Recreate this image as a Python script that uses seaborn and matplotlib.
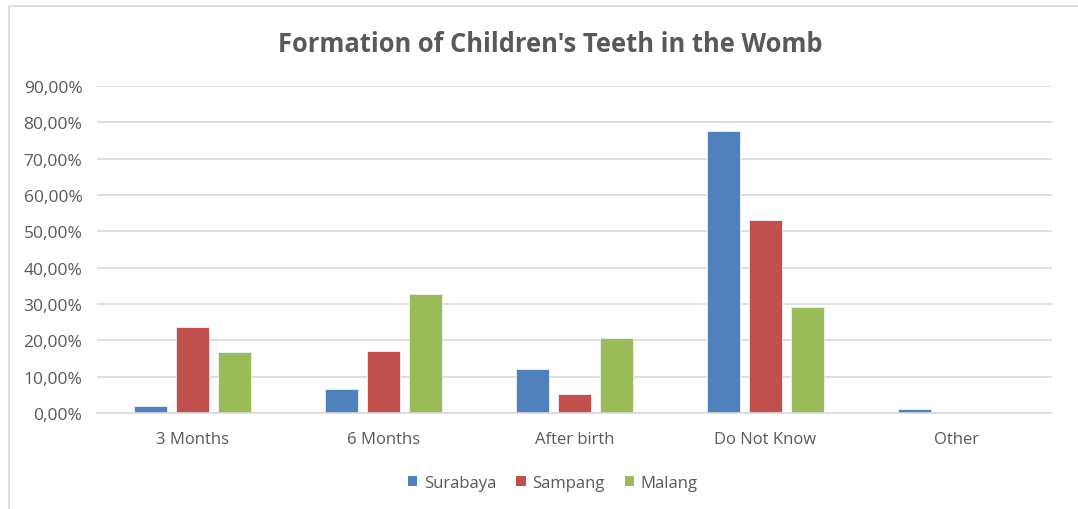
import matplotlib
matplotlib.use("Agg")
import matplotlib.pyplot as plt
import matplotlib.patches as mpatches
import seaborn as sns
import pandas as pd
from matplotlib.ticker import FuncFormatter, MultipleLocator

categories = ["3 Months", "6 Months", "After birth", "Do Not Know", "Other"]
surabaya = [0.019, 0.065, 0.121, 0.775, 0.010]
sampang = [0.237, 0.172, 0.053, 0.531, 0.0]
malang = [0.169, 0.327, 0.206, 0.291, 0.0]
series_names = ["Surabaya", "Sampang", "Malang"]
colors = ["#4F81BD", "#C0504D", "#9BBB59"]

rows = []
for name, vals in zip(series_names, [surabaya, sampang, malang]):
    for c, v in zip(categories, vals):
        rows.append({"Category": c, "Region": name, "Value": v})
df = pd.DataFrame(rows)

sns.set_theme(style="white")
plt.rcParams["font.family"] = ["Open Sans", "DejaVu Sans"]

fig = plt.figure(figsize=(10.78, 5.10), dpi=100)
ax = fig.add_axes([97/1078, 1-414/510, (1052-97)/1078, (414-87)/510])

sns.barplot(data=df, x="Category", y="Value", hue="Region", order=categories,
            hue_order=series_names, palette=colors, saturation=1, width=0.66, gap=0.21,
            edgecolor="#EEF2F8", linewidth=0.6, ax=ax, legend=False)

ax.set_ylim(0, 0.9)
ax.set_xlim(-0.5, len(categories) - 0.5)
ax.yaxis.set_major_locator(MultipleLocator(0.1))
ax.yaxis.set_major_formatter(FuncFormatter(lambda v, p: f"{v*100:.2f}%".replace(".", ",")))
ax.grid(axis="y", color="#D9D9D9", linewidth=1.2)
ax.set_axisbelow(True)
for s in ["left", "right", "top"]:
    ax.spines[s].set_visible(False)
ax.spines["bottom"].set_color("#D9D9D9")
ax.spines["bottom"].set_linewidth(1.2)
ax.set_xlabel("")
ax.set_ylabel("")
ax.tick_params(axis="both", length=0, colors="#595959")
ax.tick_params(axis="y", pad=10.5, labelsize=12.5)
ax.tick_params(axis="x", pad=13, labelsize=12)

fig.text(550/1078, 1-45/510, "Formation of Children's Teeth in the Womb",
         ha="center", va="center", fontsize=18.4, fontweight="bold", color="#595959")

handles = [mpatches.Patch(facecolor=c, edgecolor="none", label=n) for c, n in zip(colors, series_names)]
fig.legend(handles=handles, loc="center", bbox_to_anchor=(553/1078, 1-484/510), ncol=3,
           frameon=False, fontsize=12, handlelength=0.55, handleheight=0.55,
           handletextpad=0.4, columnspacing=1.2, labelcolor="#595959")

border = mpatches.Rectangle((9/1078, -0.1), 1.2, 1 - 7/510 + 0.1, transform=fig.transFigure,
                            fill=False, edgecolor="#D9D9D9", linewidth=1.2)
fig.patches.append(border)

fig.savefig("out.png", dpi=100)
